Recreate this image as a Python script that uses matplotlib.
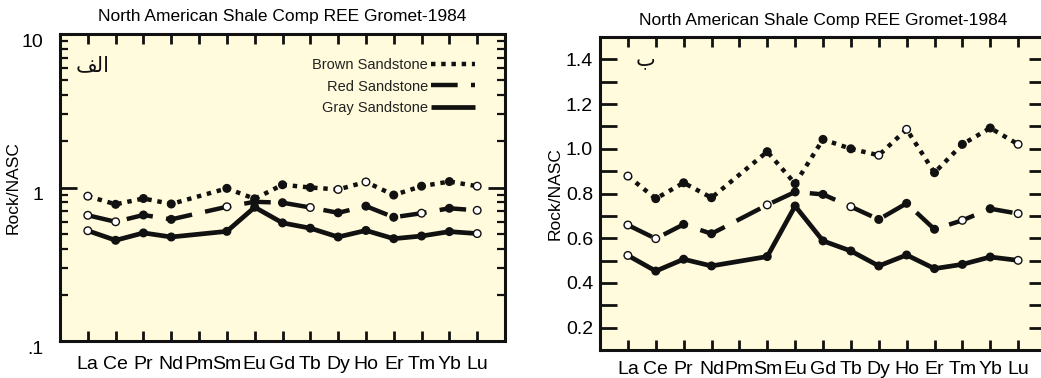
import numpy as np
import matplotlib
matplotlib.use("Agg")
import matplotlib.pyplot as plt
from matplotlib.ticker import FixedLocator, FixedFormatter, NullFormatter, LogLocator

plt.rcParams['font.family'] = ['Liberation Sans', 'DejaVu Sans']

# ---------------- data ----------------
elements = ['La', 'Ce', 'Pr', 'Nd', 'Pm', 'Sm', 'Eu', 'Gd', 'Tb', 'Dy', 'Ho', 'Er', 'Tm', 'Yb', 'Lu']
brown = [0.878, 0.777, 0.848, 0.781, None, 0.987, 0.844, 1.042, 1.000, 0.971, 1.087, 0.893, 1.020, 1.093, 1.020]
red = [0.659, 0.598, 0.662, 0.620, None, 0.749, 0.807, 0.796, 0.741, 0.684, 0.756, 0.640, 0.680, 0.732, 0.710]
gray = [0.523, 0.453, 0.506, 0.476, None, 0.518, 0.744, 0.588, 0.543, 0.476, 0.525, 0.464, 0.483, 0.516, 0.501]
series_names = ['Brown Sandstone', 'Red Sandstone', 'Gray Sandstone']
title = 'North American Shale Comp REE Gromet-1984'
ylabel = 'Rock/NASC'
log_ticks = [0.1, 1, 10]
log_ticklabels = ['.1', '1', '10']
lin_ticks = [0.2, 0.4, 0.6, 0.8, 1.0, 1.2, 1.4]
lin_minor = [0.3, 0.5, 0.7, 0.9, 1.1, 1.3]

# ---------------- style ----------------
BG = '#fffbdc'
INK = '#111111'
open_pts = {
    'Brown Sandstone': {'La', 'Dy', 'Ho', 'Lu'},
    'Red Sandstone': {'La', 'Ce', 'Sm', 'Tb', 'Tm', 'Lu'},
    'Gray Sandstone': {'La', 'Lu'},
}
line_styles = {
    'Brown Sandstone': dict(linestyle=(0, (1.0, 1.3)), linewidth=3.2),
    'Red Sandstone': dict(linestyle=(0, (6, 3)), linewidth=3.2),
    'Gray Sandstone': dict(linestyle='-', linewidth=3.4),
}

x_all = np.arange(1, len(elements) + 1)
data = {'Brown Sandstone': brown, 'Red Sandstone': red, 'Gray Sandstone': gray}

fig = plt.figure(figsize=(10.41, 3.78), dpi=100)
fig.patch.set_facecolor('white')

ax1 = fig.add_axes([60 / 1041, 1 - 341 / 378, 445 / 1041, 307 / 378])
ax2 = fig.add_axes([600 / 1041, 1 - 350 / 378, 446 / 1041, 313 / 378])


def draw_series(ax):
    handles = []
    for name in series_names:
        vals = data[name]
        xs = [x for x, v in zip(x_all, vals) if v is not None]
        ys = [v for v in vals if v is not None]
        els = [e for e, v in zip(elements, vals) if v is not None]
        ln, = ax.plot(xs, ys, color=INK, solid_capstyle='butt', dash_capstyle='butt',
                      zorder=3, label=name, **line_styles[name])
        fcs = ['white' if e in open_pts[name] else INK for e in els]
        ax.scatter(xs, ys, s=30, facecolors=fcs, edgecolors=INK, linewidths=1.0, zorder=4)
        handles.append(ln)
    return handles


for ax, xpad in ((ax1, 11), (ax2, 8)):
    ax.set_facecolor(BG)
    ax.set_xlim(0, 16)
    ax.set_xticks(x_all)
    ax.set_xticklabels(elements, fontsize=14)
    ax.set_ylabel(ylabel, fontsize=12.5)
    ax.tick_params(axis='x', which='major', direction='in', top=True, bottom=True,
                   length=7, width=2.0, pad=xpad, color=INK)
    ax.set_title(title, fontsize=12.5, pad=9)

# ---- left panel (log) ----
handles = draw_series(ax1)
ax1.set_yscale('log')
ax1.set_ylim(0.1, 10)
ax1.yaxis.set_major_locator(FixedLocator(log_ticks))
ax1.yaxis.set_major_formatter(FixedFormatter(log_ticklabels))
ax1.yaxis.set_minor_locator(LogLocator(base=10, subs=np.arange(2, 10)))
ax1.yaxis.set_minor_formatter(NullFormatter())
ax1.tick_params(axis='y', which='major', direction='in', left=True, right=True,
                length=12, width=2.0, labelsize=14, pad=12, color=INK)
ax1.tick_params(axis='y', which='minor', direction='in', left=True, right=True,
                length=6, width=1.6, color=INK)
for lab in ax1.get_yticklabels():
    lab.set_verticalalignment('top')
for sp in ax1.spines.values():
    sp.set_linestyle((0, (1, 1)))
    sp.set_linewidth(2.2)
    sp.set_color(INK)
ax1.yaxis.labelpad = 1
leg = ax1.legend(handles=handles, loc='upper right', bbox_to_anchor=(0.945, 0.94),
                 frameon=False, markerfirst=False, fontsize=10.5, handlelength=3.0,
                 handletextpad=0.2, labelspacing=0.5, borderaxespad=0)
for t in leg.get_texts():
    t.set_color('#222222')
ax1.text(0.035, 0.9, '\uFED2\uFEDF\uFE8D', transform=ax1.transAxes, fontsize=15,
         family='DejaVu Sans', ha='left', va='center', color=INK)

# ---- right panel (linear) ----
draw_series(ax2)
ax2.set_ylim(0.1, 1.5)
ax2.yaxis.set_major_locator(FixedLocator(lin_ticks))
ax2.yaxis.set_major_formatter(FixedFormatter(['%.1f' % v for v in lin_ticks]))
ax2.yaxis.set_minor_locator(FixedLocator(lin_minor))
ax2.yaxis.set_minor_formatter(NullFormatter())
ax2.tick_params(axis='y', which='both', direction='in', left=True, right=True,
                length=12, width=2.0, labelsize=14, pad=5, color=INK)
for sp in ax2.spines.values():
    sp.set_linewidth(2.2)
    sp.set_color(INK)
ax2.yaxis.labelpad = 2
ax2.text(0.08, 0.93, '\uFE8F', transform=ax2.transAxes, fontsize=15,
         family='DejaVu Sans', ha='left', va='center', color=INK)

fig.savefig('out.png', dpi=100, facecolor='white')
